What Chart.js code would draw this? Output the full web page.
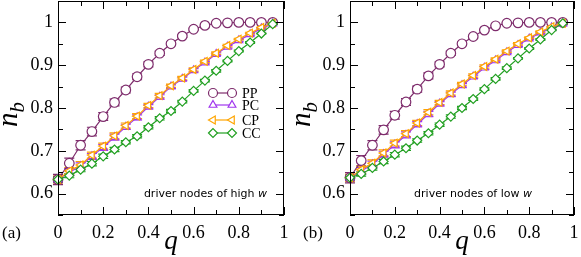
<!DOCTYPE html>
<html>
<head>
<meta charset="utf-8">
<script src="https://cdn.jsdelivr.net/npm/chart.js@4/dist/chart.umd.min.js"></script>
<style>
  html, body { margin: 0; padding: 0; background: #fff; }
  #wrap { position: relative; width: 581px; height: 257px; }
  .panel { position: absolute; top: 0; height: 257px; }
  #pa { left: 0; width: 290px; }
  #pb { left: 290px; width: 291px; }
</style>
</head>
<body>
<div id="wrap">
  <div class="panel" id="pa"><canvas id="chartA"></canvas></div>
  <div class="panel" id="pb"><canvas id="chartB"></canvas></div>
</div>
<script>
// q values shared by every series
const qValues = [0, 0.05, 0.1, 0.15, 0.2, 0.25, 0.3, 0.35, 0.4, 0.45,
                 0.5, 0.55, 0.6, 0.65, 0.7, 0.75, 0.8, 0.85, 0.9, 0.95];

const xTicks = [0, 0.2, 0.4, 0.6, 0.8, 1];
const xMinor = [0.1, 0.3, 0.5, 0.7, 0.9];
const yTicks = [0.6, 0.7, 0.8, 0.9, 1];
const yMinor = [0.55, 0.65, 0.75, 0.85, 0.95, 1.05];
const seriesNames = ['PP', 'PC', 'CP', 'CC'];

// (a) driver nodes of high w
const highPP = [0.633, 0.671, 0.713, 0.745, 0.780, 0.813, 0.842, 0.873, 0.902, 0.928,
                0.950, 0.968, 0.984, 0.993, 0.998, 0.999, 1.000, 1.000, 1.000, 1.000];
const highPC = [0.633, 0.650, 0.664, 0.687, 0.708, 0.732, 0.756, 0.778, 0.803, 0.826,
                0.850, 0.868, 0.888, 0.906, 0.926, 0.943, 0.958, 0.972, 0.986, 0.997];
const highCP = [0.633, 0.653, 0.667, 0.690, 0.711, 0.735, 0.759, 0.781, 0.806, 0.829,
                0.852, 0.870, 0.890, 0.909, 0.928, 0.946, 0.961, 0.975, 0.988, 0.998];
const highCC = [0.633, 0.642, 0.656, 0.670, 0.687, 0.703, 0.720, 0.734, 0.755, 0.776,
                0.793, 0.815, 0.840, 0.864, 0.887, 0.910, 0.933, 0.953, 0.974, 0.996];

// (b) driver nodes of low w
const lowPP = [0.637, 0.677, 0.713, 0.749, 0.783, 0.814, 0.844, 0.875, 0.902, 0.928,
               0.950, 0.967, 0.982, 0.992, 0.998, 0.999, 1.000, 1.000, 1.000, 1.000];
const lowPC = [0.637, 0.653, 0.668, 0.692, 0.714, 0.737, 0.762, 0.786, 0.810, 0.832,
               0.853, 0.873, 0.894, 0.911, 0.930, 0.947, 0.962, 0.976, 0.988, 0.997];
const lowCP = [0.637, 0.656, 0.671, 0.695, 0.718, 0.740, 0.765, 0.790, 0.813, 0.835,
               0.856, 0.876, 0.897, 0.914, 0.933, 0.950, 0.964, 0.978, 0.990, 0.998];
const lowCC = [0.637, 0.646, 0.660, 0.675, 0.691, 0.706, 0.724, 0.741, 0.761, 0.780,
               0.800, 0.821, 0.844, 0.868, 0.893, 0.916, 0.939, 0.960, 0.982, 0.998];

// error bars (same size in both panels)
const errPP  = [0.012, 0.012, 0.011, 0.010, 0.009, 0.008, 0.007, 0.007, 0.006, 0.005,
                0.004, 0.003, 0.002, 0.001, 0.001, 0, 0, 0, 0, 0];
const errMid = [0.008, 0.008, 0.008, 0.007, 0.007, 0.007, 0.006, 0.006, 0.005, 0.005,
                0.004, 0.004, 0.004, 0.003, 0.003, 0.003, 0.002, 0.002, 0.001, 0.001];
const errCC  = [0.006, 0.005, 0.005, 0.005, 0.005, 0.005, 0.004, 0.004, 0.004, 0.004,
                0.004, 0.003, 0.003, 0.003, 0.003, 0.002, 0.002, 0.002, 0.001, 0.001];

const colors = { PP: '#7e2c6c', PC: '#a036ee', CP: '#ffa500', CC: '#22a022' };
const SERIF = '"Liberation Serif", "DejaVu Serif", serif';

function toPoints(vals) {
  return vals.map((v, i) => ({ x: qValues[i], y: v }));
}

function makeDataset(name, vals, err, order) {
  const c = colors[name];
  const style = {
    PP: { pointStyle: 'circle', rot: 0 },
    PC: { pointStyle: 'triangle', rot: 0 },
    CP: { pointStyle: 'triangle', rot: -90 },
    CC: { pointStyle: 'rectRot', rot: 0 }
  }[name];
  return {
    label: name,
    data: toPoints(vals),
    err: err,
    borderColor: c,
    backgroundColor: '#fff',
    borderWidth: 1.2,
    pointStyle: style.pointStyle,
    pointRotation: style.rot,
    pointRadius: name === 'PP' ? 4.8 : 4.5,
    pointBorderWidth: 1.2,
    pointBorderColor: c,
    pointBackgroundColor: '#fff',
    tension: 0,
    clip: false,
    order: order
  };
}

// error bars under the markers
const errorBars = {
  id: 'errorBars',
  beforeDatasetsDraw(chart) {
    const ctx = chart.ctx;
    const ys = chart.scales.y;
    chart.data.datasets.forEach((ds, di) => {
      const meta = chart.getDatasetMeta(di);
      ctx.save();
      ctx.strokeStyle = ds.borderColor;
      ctx.lineWidth = 1.2;
      meta.data.forEach((pt, i) => {
        const e = ds.err[i];
        if (!e) return;
        const yTop = ys.getPixelForValue(ds.data[i].y + e);
        const yBot = ys.getPixelForValue(ds.data[i].y - e);
        ctx.beginPath();
        ctx.moveTo(pt.x, yTop); ctx.lineTo(pt.x, yBot);
        ctx.moveTo(pt.x - 5, yTop); ctx.lineTo(pt.x + 5, yTop);
        ctx.moveTo(pt.x - 5, yBot); ctx.lineTo(pt.x + 5, yBot);
        ctx.stroke();
      });
      ctx.restore();
    });
  }
};

// frame with inward ticks, axis titles, panel text
const decorations = {
  id: 'decorations',
  afterDraw(chart, args, opts) {
    const ctx = chart.ctx;
    const a = chart.chartArea;
    const xs = chart.scales.x, ys = chart.scales.y;
    ctx.save();
    ctx.strokeStyle = '#000';
    ctx.lineWidth = 1;
    ctx.strokeRect(a.left + 0.5, a.top + 0.5, a.right - a.left - 1, a.bottom - a.top - 1);
    ctx.beginPath();
    const xt = (v, len) => {
      const p = Math.round(xs.getPixelForValue(v)) + 0.5;
      ctx.moveTo(p, a.bottom); ctx.lineTo(p, a.bottom - len);
      ctx.moveTo(p, a.top); ctx.lineTo(p, a.top + len);
    };
    const yt = (v, len) => {
      const p = Math.round(ys.getPixelForValue(v)) + 0.5;
      ctx.moveTo(a.left, p); ctx.lineTo(a.left + len, p);
      ctx.moveTo(a.right, p); ctx.lineTo(a.right - len, p);
    };
    xTicks.forEach(v => xt(v, 8));
    xMinor.forEach(v => xt(v, 5));
    yTicks.forEach(v => yt(v, 8));
    yMinor.forEach(v => yt(v, 5));
    ctx.stroke();

    // x title
    ctx.fillStyle = '#000';
    ctx.font = 'italic 27px ' + SERIF;
    ctx.textAlign = 'center';
    ctx.textBaseline = 'alphabetic';
    ctx.fillText('q', (a.left + a.right) / 2, 249);

    // panel letter
    ctx.font = '17px ' + SERIF;
    ctx.textAlign = 'left';
    ctx.fillText(opts.letter, opts.letterX, 238);

    // y title n_b
    ctx.save();
    ctx.translate(opts.nbX, 127);
    ctx.rotate(-Math.PI / 2);
    ctx.font = 'italic 29px ' + SERIF;
    ctx.textAlign = 'left';
    ctx.fillText('n', 0, 0);
    const nw = ctx.measureText('n').width;
    ctx.font = 'italic 21px ' + SERIF;
    ctx.fillText('b', nw, 7);
    ctx.restore();

    // annotation text
    ctx.font = '11px "DejaVu Sans", sans-serif';
    ctx.textAlign = 'left';
    const main = 'driver nodes of ' + opts.kind + ' ';
    const mw = ctx.measureText(main).width;
    ctx.font = 'italic 11px "DejaVu Sans", sans-serif';
    const ww = ctx.measureText('w').width;
    const x0 = opts.textRight - mw - ww;
    ctx.font = '11px "DejaVu Sans", sans-serif';
    ctx.fillText(main, x0, 197);
    ctx.font = 'italic 11px "DejaVu Sans", sans-serif';
    ctx.fillText('w', x0 + mw, 197);

    // legend
    if (opts.legend) {
      const rows = [93, 105, 120, 133];
      chart.data.datasets.forEach((ds, i) => {
        const y = rows[seriesNames.indexOf(ds.label)];
        ctx.strokeStyle = ds.borderColor;
        ctx.lineWidth = 1.2;
        ctx.beginPath();
        ctx.moveTo(213, y); ctx.lineTo(232, y);
        ctx.stroke();
        const po = {
          pointStyle: ds.pointStyle, rotation: ds.pointRotation, radius: 4.5,
          borderWidth: 1.2
        };
        ctx.fillStyle = '#fff';
        if (Chart.helpers && Chart.helpers.drawPoint) {
          Chart.helpers.drawPoint(ctx, po, 213, y);
          Chart.helpers.drawPoint(ctx, po, 232, y);
        }
        ctx.fillStyle = '#000';
        ctx.font = '14px ' + SERIF;
        ctx.textBaseline = 'middle';
        ctx.fillText(ds.label, 242, y + 1);
      });
    }
    ctx.restore();
  }
};

function buildChart(id, sets, opts) {
  const datasets = [
    makeDataset('PP', sets[0], errPP, 3),
    makeDataset('PC', sets[1], errMid, 2),
    makeDataset('CP', sets[2], errMid, 1),
    makeDataset('CC', sets[3], errCC, 0)
  ];
  return new Chart(document.getElementById(id), {
    type: 'line',
    data: { datasets },
    plugins: [errorBars, decorations],
    options: {
      responsive: true,
      maintainAspectRatio: false,
      animation: false,
      layout: {
        autoPadding: false,
        padding: { top: 1, right: opts.padRight, left: 0, bottom: 0 }
      },
      plugins: {
        legend: { display: false },
        tooltip: { enabled: false },
        decorations: opts
      },
      scales: {
        x: {
          type: 'linear', min: 0, max: 1,
          grid: { display: false, drawTicks: false },
          border: { display: false },
          afterBuildTicks: s => { s.ticks = xTicks.map(v => ({ value: v })); },
          afterFit: s => {
            s.height = 42;
            s.paddingLeft = 0; s.paddingRight = 0;
          },
          ticks: {
            padding: 7, color: '#000', maxRotation: 0,
            font: { family: SERIF, size: 18 },
            callback: v => String(+v.toFixed(1))
          }
        },
        y: {
          type: 'linear', min: 0.55, max: 1.05,
          grid: { display: false, drawTicks: false },
          border: { display: false },
          afterBuildTicks: s => { s.ticks = yTicks.map(v => ({ value: v })); },
          afterFit: s => {
            s.width = opts.axisLeft;
            s.paddingTop = 0; s.paddingBottom = 0;
          },
          ticks: {
            padding: 5, color: '#000',
            font: { family: SERIF, size: 18 },
            callback: v => String(+v.toFixed(1))
          }
        }
      }
    }
  });
}

buildChart('chartA', [highPP, highPC, highCP, highCC], {
  letter: '(a)', letterX: 2, nbX: 17, kind: 'high', textRight: 267,
  legend: true, axisLeft: 58, padRight: 6
});
buildChart('chartB', [lowPP, lowPC, lowCP, lowCC], {
  letter: '(b)', letterX: 13, nbX: 20, kind: 'low', textRight: 242,
  legend: false, axisLeft: 60, padRight: 7
});
</script>
</body>
</html>
